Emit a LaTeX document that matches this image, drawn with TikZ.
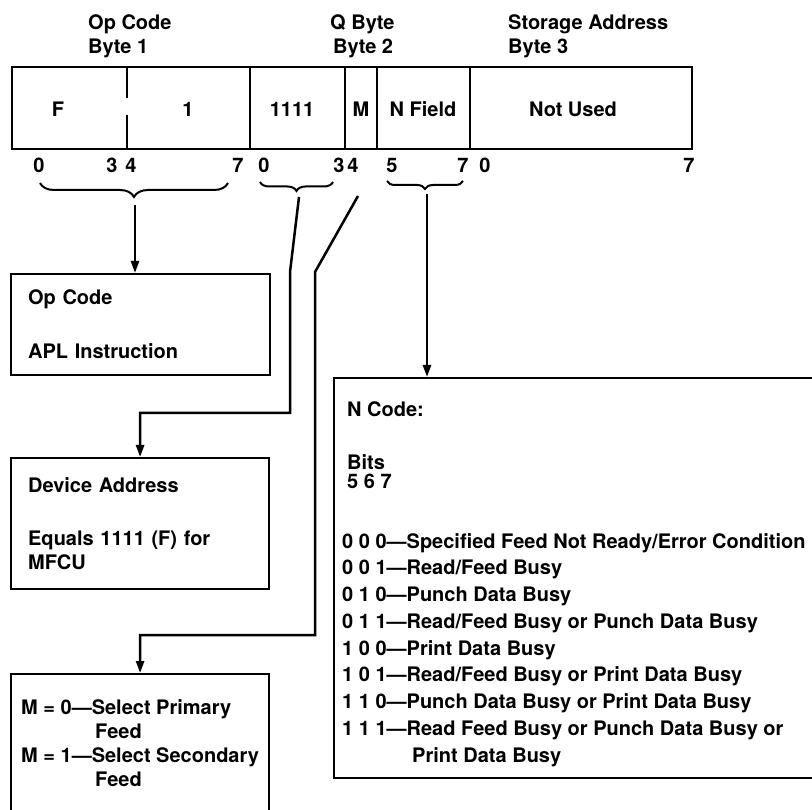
\documentclass[tikz,border=0pt]{standalone}
\usepackage{fontspec}
\setmainfont{TeX Gyre Heros}
\usetikzlibrary{arrows.meta,positioning,decorations.pathreplacing}
\tikzset{
  cell/.style={draw, line width=2.2pt, minimum height=82pt, inner sep=0pt, outer sep=0pt},
  field/.style={anchor=base, inner sep=0pt},
  head/.style={anchor=north west, align=left, inner sep=0pt},
  bitno/.style={anchor=base, inner sep=0pt},
  nline/.style={anchor=base west, inner sep=0pt},
  infobox/.style={draw, line width=2.2pt, anchor=north west, align=left, inner ysep=0pt},
  curly/.style={decorate, decoration={brace, mirror, amplitude=#1}, line width=2pt},
  arrow/.style={-{Triangle[length=12pt,width=8pt]}, line width=2.5pt}
}

\begin{document}
\begin{tikzpicture}[x=1pt, y=-1pt, font=\fontsize{20}{24}\selectfont\bfseries]
  \useasboundingbox (0,0) rectangle (812,810);
  % byte headings
  \node[head] (hopcode) at (88,14.5) {Op Code\\Byte 1};
  \node[head] (hqbyte) at (330,14.5) {Q Byte\\\hspace*{3pt}Byte 2};
  \node[head] (hstore) at (508,14.5) {Storage Address\\Byte 3};
  % instruction format
  \node[cell, minimum width=238pt] (opbyte) at (131,108) {};
  \node[cell, minimum width=95pt, right=0pt of opbyte] (devf) {};
  \node[cell, minimum width=32pt, right=0pt of devf] (mf) {};
  \node[cell, minimum width=93pt, right=0pt of mf] (nf) {};
  \node[cell, minimum width=222pt, right=0pt of nf] (addr) {};
  \draw[line width=2.2pt] (opbyte.north west) ++(115,0) -- ++(0,31);
  \draw[line width=2.2pt] (opbyte.south west) ++(115,0) -- ++(0,-34);
  \node[field] (tf) at (58,117) {F};
  \node[field] (tone) at (188,117) {1};
  \node[field] (tdev) at (292,117) {1111};
  \node[field] (tm) at (361,117) {M};
  \node[field] (tn) at (423,117) {N Field};
  \node[field] (taddr) at (573,117) {Not Used};
  % bit numbers
  \foreach \x/\b in {39/0,112/3,131/4,238/7,264/0,339/3,353/4,392/5,463/7,485/0,689/7}
    \node[bitno] (bit\x) at (\x,173) {\b};
  % braces
  \draw[curly=14pt] (40,183) -- (228,183);
  \draw[curly=9pt] (260,182) -- (333,182);
  \draw[curly=8pt] (387,181) -- (463,181);
  \coordinate (optip) at (135,205);
  \coordinate (devtip) at (299,197);
  \coordinate (devbend) at (290,272);
  \coordinate (devturn) at (290,413);
  \coordinate (mtip) at (358,196);
  \coordinate (mbend) at (315,272);
  \coordinate (mturn) at (315,635);
  \coordinate (ntip) at (427,194);
  % description boxes
  \node[infobox, text width=225pt, inner xsep=17pt, minimum height=101pt] (opbox) at (10,273)
    {Op Code\\[30pt]APL Instruction};
  \node[infobox, text width=224pt, inner xsep=17pt, minimum height=131pt] (devbox) at (10,457)
    {Device Address\\[29pt]Equals 1111 (F) for\\MFCU};
  \node[infobox, minimum width=258pt, minimum height=139pt] (mbox) at (10,673)
    {M = 0---Select Primary\\\hspace*{74pt}Feed\\M = 1---Select Secondary\\\hspace*{74pt}Feed};
  \node[infobox, minimum width=500pt, minimum height=400pt] (nbox) at (333,377) {};
  \node[nline] (ncode) at (347,417) {N Code:};
  \node[nline] (nbits) at (347,469) {Bits};
  \node[nline] (nbitno) at (347,489) {5 6 7};
  \foreach \txt [count=\i from 0] in {
      {0 0 0---Specified Feed Not Ready/Error Condition},
      {0 0 1---Read/Feed Busy},
      {0 1 0---Punch Data Busy},
      {0 1 1---Read/Feed Busy or Punch Data Busy},
      {1 0 0---Print Data Busy},
      {1 0 1---Read/Feed Busy or Print Data Busy},
      {1 1 0---Punch Data Busy or Print Data Busy},
      {1 1 1---Read Feed Busy or Punch Data Busy or},
      {\hspace*{70pt}Print Data Busy}}
    \node[nline] (nl\i) at (342,{548+26.75*\i}) {\txt};
  % connectors
  \draw[arrow] (optip) -- (optip |- opbox.north);
  \draw[arrow] (devtip) -- (devbend) -- (devturn) -| (devbox.north);
  \draw[arrow] (mtip) -- (mbend) -- (mturn) -| (mbox.north);
  \draw[arrow] (ntip) -- (ntip |- nbox.north);
\end{tikzpicture}
\end{document}
